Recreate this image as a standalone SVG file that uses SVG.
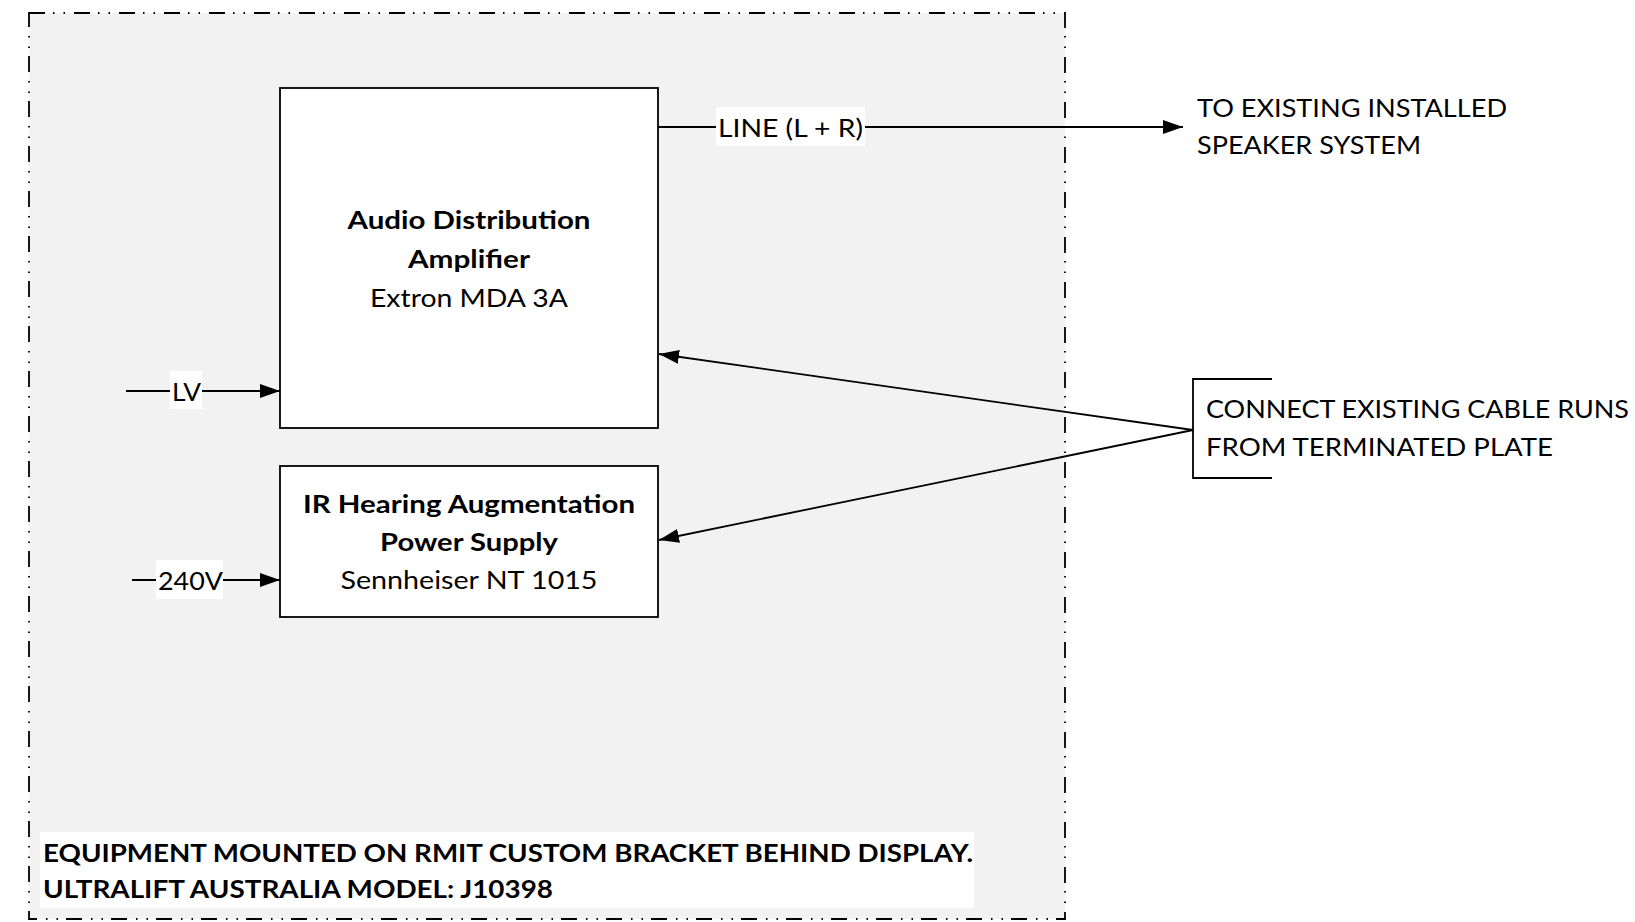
<svg xmlns="http://www.w3.org/2000/svg" width="1635" height="922" viewBox="0 0 1635 922">
<style>
text{font-family:Lato,"Liberation Sans",sans-serif;font-size:25px;fill:#000}
.b{font-weight:bold}
.box{fill:#fff;stroke:#000;stroke-width:1.8}
.ln{fill:none;stroke:#000;stroke-width:1.8}
.lbl{fill:#fff;stroke:none}
</style>
<defs>
<marker id="arr" viewBox="0 0 20 14" refX="20" refY="7" markerWidth="20" markerHeight="14" markerUnits="userSpaceOnUse" orient="auto">
<path d="M0,0 L20,7 L0,14 Z" fill="#000"/>
</marker>
</defs>
<rect width="1635" height="922" fill="#fff"/>
<g id="enclosure">
<rect x="29" y="13" width="1036" height="906" fill="#f2f2f2" stroke="#000" stroke-width="1.8" stroke-dasharray="16 8 1.5 9 1.5 9"/>
<rect x="40" y="832" width="934" height="76" fill="#fff"/>
<text class="b" x="43" y="862" textLength="930" lengthAdjust="spacingAndGlyphs">EQUIPMENT MOUNTED ON RMIT CUSTOM BRACKET BEHIND DISPLAY.</text>
<text class="b" x="43" y="898" textLength="510" lengthAdjust="spacingAndGlyphs">ULTRALIFT AUSTRALIA MODEL: J10398</text>
</g>
<g id="amp">
<rect class="box" x="280" y="88" width="378" height="340"/>
<text class="b" x="469" y="229" text-anchor="middle" textLength="243" lengthAdjust="spacingAndGlyphs">Audio Distribution</text>
<text class="b" x="469" y="268" text-anchor="middle" textLength="122" lengthAdjust="spacingAndGlyphs">Amplifier</text>
<text x="469" y="307" text-anchor="middle" textLength="198" lengthAdjust="spacingAndGlyphs">Extron MDA 3A</text>
</g>
<g id="ir">
<rect class="box" x="280" y="466" width="378" height="151"/>
<text class="b" x="469" y="513" text-anchor="middle" textLength="332" lengthAdjust="spacingAndGlyphs">IR Hearing Augmentation</text>
<text class="b" x="469" y="551" text-anchor="middle" textLength="178" lengthAdjust="spacingAndGlyphs">Power Supply</text>
<text x="469" y="589" text-anchor="middle" textLength="257" lengthAdjust="spacingAndGlyphs">Sennheiser NT 1015</text>
</g>
<g id="speaker">
<text x="1197" y="117" textLength="310" lengthAdjust="spacingAndGlyphs">TO EXISTING INSTALLED</text>
<text x="1197" y="154" textLength="224" lengthAdjust="spacingAndGlyphs">SPEAKER SYSTEM</text>
</g>
<g id="plate">
<path class="ln" d="M1272,379 H1193 V478 H1272"/>
<text x="1206" y="418" textLength="423" lengthAdjust="spacingAndGlyphs">CONNECT EXISTING CABLE RUNS</text>
<text x="1206" y="456" textLength="347" lengthAdjust="spacingAndGlyphs">FROM TERMINATED PLATE</text>
</g>
<g id="connectors">
<line class="ln" x1="658" y1="127" x2="1183" y2="127" marker-end="url(#arr)"/>
<rect class="lbl" x="716" y="107" width="149" height="39"/>
<text x="718" y="137" textLength="145" lengthAdjust="spacingAndGlyphs">LINE (L + R)</text>
<line class="ln" x1="126" y1="391" x2="280" y2="391" marker-end="url(#arr)"/>
<rect class="lbl" x="170" y="371" width="32" height="38"/>
<text x="172" y="401" textLength="29" lengthAdjust="spacingAndGlyphs">LV</text>
<line class="ln" x1="132" y1="580" x2="280" y2="580" marker-end="url(#arr)"/>
<rect class="lbl" x="156" y="560" width="67" height="39"/>
<text x="158" y="590" textLength="65" lengthAdjust="spacingAndGlyphs">240V</text>
<line class="ln" x1="1193" y1="430" x2="659" y2="354" marker-end="url(#arr)"/>
<line class="ln" x1="1193" y1="430" x2="659" y2="540" marker-end="url(#arr)"/>
</g>
</svg>
